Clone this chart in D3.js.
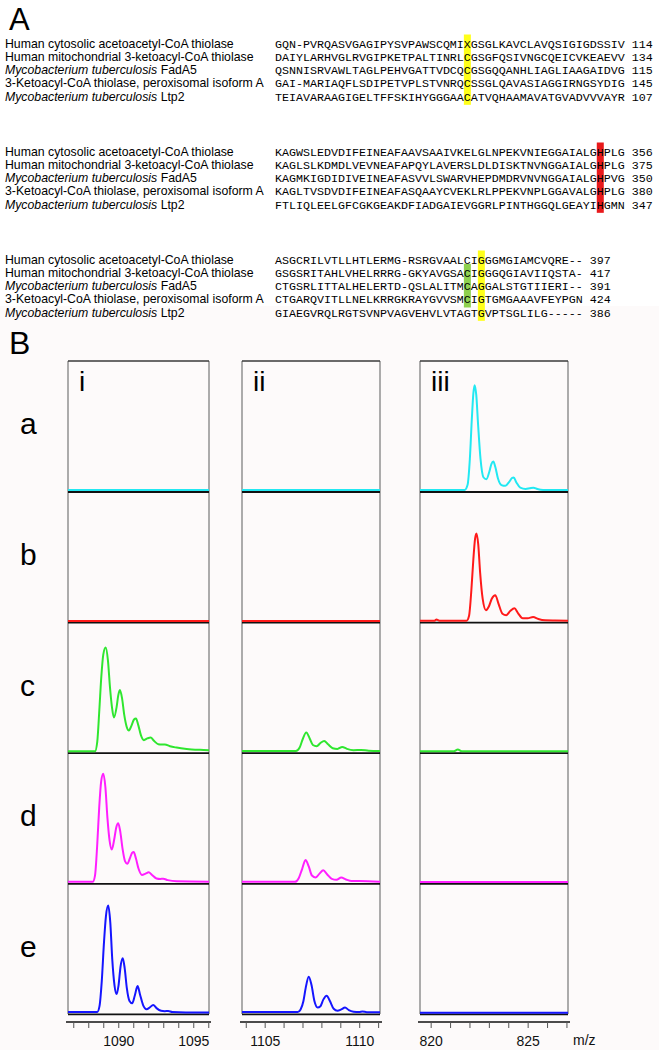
<!DOCTYPE html>
<html><head><meta charset="utf-8">
<script src="https://cdn.jsdelivr.net/npm/d3@7"></script>
<style>body{margin:0;background:#fff}svg{display:block}</style>
</head><body>
<script>
// ---------------- Panel A data ----------------
const nameItalic = ["", "", "Mycobacterium tuberculosis", "", "Mycobacterium tuberculosis"];
const namePlain = ["Human cytosolic acetoacetyl-CoA thiolase", "Human mitochondrial 3-ketoacyl-CoA thiolase", " FadA5", "3-Ketoacyl-CoA thiolase, peroxisomal isoform A", " Ltp2"];
const block1Seqs = [
  "GQN-PVRQASVGAGIPYSVPAWSCQMIXGSGLKAVCLAVQSIGIGDSSIV",
  "DAIYLARHVGLRVGIPKETPALTINRLCGSGFQSIVNGCQEICVKEAEVV",
  "QSNNISRVAWLTAGLPEHVGATTVDCQCGSGQQANHLIAGLIAAGAIDVG",
  "GAI-MARIAQFLSDIPETVPLSTVNRQCSSGLQAVASIAGGIRNGSYDIG",
  "TEIAVARAAGIGELTFFSKIHYGGGAACATVQHAAMAVATGVADVVVAYR"];
const block1Ends = ["114", "134", "115", "145", "107"];
const block2Seqs = [
  "KAGWSLEDVDIFEINEAFAAVSAAIVKELGLNPEKVNIEGGAIALGHPLG",
  "KAGLSLKDMDLVEVNEAFAPQYLAVERSLDLDISKTNVNGGAIALGHPLG",
  "KAGMKIGDIDIVEINEAFASVVLSWARVHEPDMDRVNVNGGAIALGHPVG",
  "KAGLTVSDVDIFEINEAFASQAAYCVEKLRLPPEKVNPLGGAVALGHPLG",
  "FTLIQLEELGFCGKGEAKDFIADGAIEVGGRLPINTHGGQLGEAYIHGMN"];
const block2Ends = ["356", "375", "350", "380", "347"];
const block3Seqs = [
  "ASGCRILVTLLHTLERMG-RSRGVAALCIGGGMGIAMCVQRE--",
  "GSGSRITAHLVHELRRRG-GKYAVGSACIGGGQGIAVIIQSTA-",
  "CTGSRLITTALHELERTD-QSLALITMCAGGALSTGTIIERI--",
  "CTGARQVITLLNELKRRGKRAYGVVSMCIGTGMGAAAVFEYPGN",
  "GIAEGVRQLRGTSVNPVAGVEHVLVTAGTGVPTSGLILG-----"];
const block3Ends = ["397", "417", "391", "424", "386"];
// highlighted columns: block, residue index, first row, last row, colour
const highlightBlock = [0, 1, 2, 2];
const highlightCol = [27, 46, 27, 29];
const highlightRowFrom = [0, 0, 1, 0];
const highlightRowTo = [4, 4, 3, 4];
const highlightColor = ["#ffff1a", "#e8191b", "#8fd14f", "#ffff1a"];

// ---------------- Panel B data ----------------
const rowLabels = ["a", "b", "c", "d", "e"];
const colLabels = ["i", "ii", "iii"];
const rowColors = ["#22e8f2", "#ff1a1a", "#2fe62f", "#ff1fff", "#1515ff"];
const domainI = [1086.65, 1096.05], domainII = [1103.8, 1111.1], domainIII = [819.45, 827.08];
const ticksI = [1087, 1088, 1089, 1090, 1091, 1092, 1093, 1094, 1095, 1096];
const ticksII = [1104, 1105, 1106, 1107, 1108, 1109, 1110, 1111];
const ticksIII = [820, 821, 822, 823, 824, 825, 826, 827];
const labelsI = [1090, 1095], labelsII = [1105, 1110], labelsIII = [820, 825];

// spectra: [m/z, intensity in % of panel height]
const a_i = [[1086.65, 1.2], [1096.05, 1.2]];
const a_ii = [[1103.8, 1.2], [1111.1, 1.2]];
const a_iii = [[819.45,1.2],[821.75,1.2],[821.9,5],[822.02,25],[822.12,55],[822.2,75],[822.27,81.5],[822.35,74],[822.45,50],[822.57,25],[822.72,11],[822.87,9.5],[823.02,15],[823.13,21],[823.23,23],[823.33,19],[823.47,10],[823.65,5],[823.85,4.4],[824.05,7.5],[824.2,10.5],[824.28,10.8],[824.42,7],[824.62,3],[824.9,2],[825.1,2.5],[825.3,3],[825.5,2],[825.8,1.3],[827.08,1.2]];
const b_i = [[1086.65, 1.0], [1096.05, 1.0]];
const b_ii = [[1103.8, 1.0], [1111.1, 1.0]];
const b_iii = [[819.45,1.2],[820.2,1.2],[820.3,2],[820.45,1.2],[821.85,1.2],[821.98,5],[822.1,25],[822.2,48],[822.29,64],[822.36,68],[822.45,60],[822.55,38],[822.68,18],[822.85,9.2],[823.0,12],[823.15,18],[823.33,20.7],[823.5,14],[823.7,6.5],[823.9,5.4],[824.1,8.5],[824.32,10.7],[824.5,7],[824.75,3],[825.0,3],[825.28,4],[825.55,2.5],[825.9,1.5],[826.4,1.3],[827.08,1.2]];
const c_i = [[1086.65,1.2],[1088.45,1.2],[1088.60,8.4],[1088.74,33],[1088.87,58],[1089.00,75],[1089.16,80.6],[1089.31,71],[1089.45,50],[1089.58,35],[1089.71,27],[1089.89,35],[1090.00,44],[1090.11,48],[1090.25,42],[1090.40,29],[1090.56,20],[1090.71,17],[1090.89,21],[1091.05,25.5],[1091.18,26.3],[1091.34,21],[1091.51,13.5],[1091.71,9.7],[1091.94,11],[1092.16,11.7],[1092.38,9.2],[1092.67,6.6],[1092.89,6.4],[1093.11,6.4],[1093.45,5],[1093.89,4],[1094.56,3],[1095.45,2.3],[1096.05,2]];
const c_ii = [[1103.8,1.3],[1106.65,1.3],[1106.85,4],[1107.0,10],[1107.2,15.5],[1107.38,11],[1107.55,6],[1107.75,5],[1107.95,7.5],[1108.15,9],[1108.35,6.5],[1108.6,3.5],[1108.85,3],[1109.1,4.5],[1109.35,3],[1109.7,2],[1110.1,2.2],[1110.5,1.6],[1111.1,1.4]];
const c_iii = [[819.45,1.2],[821.2,1.2],[821.4,2.5],[821.6,1.2],[827.08,1.2]];
const d_i = [[1086.65,1.2],[1088.3,1.2],[1088.45,6],[1088.6,30],[1088.73,58],[1088.86,78],[1089.0,84],[1089.14,74],[1089.28,50],[1089.42,33],[1089.57,26],[1089.75,35],[1089.87,43],[1090.0,46],[1090.13,40],[1090.28,27],[1090.45,17],[1090.6,15],[1090.8,20],[1090.93,23.5],[1091.03,24],[1091.18,19],[1091.36,11],[1091.58,6.5],[1091.82,7.5],[1092.03,8.5],[1092.25,6.5],[1092.55,3.8],[1092.8,3.4],[1093.0,3.6],[1093.3,2.5],[1093.9,1.6],[1096.05,1.3]];
const d_ii = [[1103.8,1.2],[1106.6,1.2],[1106.8,4],[1106.98,11],[1107.16,18],[1107.33,13],[1107.5,6],[1107.7,4.5],[1107.9,7.5],[1108.1,10],[1108.3,7],[1108.55,3.5],[1108.8,2.8],[1109.05,4.5],[1109.3,3],[1109.6,1.8],[1110.0,1.8],[1111.1,1.2]];
const d_iii = [[819.45, 1.0], [827.08, 1.0]];
const e_i = [[1086.65,1.5],[1088.6,1.5],[1088.75,6],[1088.9,25],[1089.05,55],[1089.18,75],[1089.33,83],[1089.47,70],[1089.6,42],[1089.75,22],[1089.89,15.3],[1090.02,22],[1090.15,36],[1090.3,42.6],[1090.43,35],[1090.57,20],[1090.75,10],[1090.93,8.2],[1091.1,14],[1091.29,21.4],[1091.45,15],[1091.65,7],[1091.89,3.6],[1092.1,5],[1092.33,6.9],[1092.55,4.5],[1092.85,2.5],[1093.1,2.2],[1093.33,2.3],[1093.6,1.5],[1094.5,1.2],[1096.05,1.2]];
const e_ii = [[1103.8,1.5],[1106.75,1.5],[1106.9,3.5],[1107.05,10],[1107.17,20],[1107.33,28.6],[1107.48,22],[1107.63,10],[1107.8,5],[1107.95,6],[1108.1,11],[1108.28,14],[1108.45,10],[1108.65,4],[1108.85,2.5],[1109.05,3.5],[1109.25,5],[1109.45,3],[1109.7,1.8],[1110.0,1.5],[1110.17,1.9],[1110.4,1.4],[1111.1,1.3]];
const e_iii = [[819.45, 1.0], [827.08, 1.0]];
const spectraGrid = [[a_i, a_ii, a_iii], [b_i, b_ii, b_iii], [c_i, c_ii, c_iii], [d_i, d_ii, d_iii], [e_i, e_ii, e_iii]];

// ---------------- drawing ----------------
const W = 659, H = 1050;
const svg = d3.select("body").append("svg").attr("width", W).attr("height", H);
svg.append("rect").attr("width", W).attr("height", H).attr("fill", "#ffffff");
svg.append("rect").attr("y", 306).attr("width", W).attr("height", H - 306).attr("fill", "#fdfafa");

const sans = "'Liberation Sans', Arial, Helvetica, sans-serif";
const mono = "'Liberation Mono', 'Courier New', monospace";

// Panel A
svg.append("text").attr("x", 9).attr("y", 30).attr("font-family", sans).attr("font-size", 31).text("A");

const nameX = 5, seqX = 275, lineGap = 13.33, blockTop = [47.5, 155.5, 263.5];
const blocks = [[block1Seqs, block1Ends], [block2Seqs, block2Ends], [block3Seqs, block3Ends]];

const probe = svg.append("text").attr("font-family", mono).attr("font-size", 11.67).text("MMMMMMMMMM");
const charW = probe.node().getComputedTextLength() / 10;
probe.remove();

highlightBlock.forEach((b, k) => {
  const y0 = blockTop[b] + highlightRowFrom[k] * lineGap - 13;
  const y1 = blockTop[b] + highlightRowTo[k] * lineGap + 4;
  svg.append("rect").attr("x", seqX + highlightCol[k] * charW).attr("y", y0)
    .attr("width", charW).attr("height", y1 - y0).attr("fill", highlightColor[k]);
});

const probe2 = svg.append("text").attr("font-family", sans).attr("font-size", 12).text(namePlain[0]);
const nameFs = 12 * 229 / probe2.node().getComputedTextLength();
probe2.remove();

blocks.forEach(([seqs, ends], b) => {
  seqs.forEach((s, r) => {
    const y = blockTop[b] + r * lineGap;
    const t = svg.append("text").attr("x", nameX).attr("y", y).attr("font-family", sans).attr("font-size", nameFs);
    if (nameItalic[r]) t.append("tspan").attr("font-style", "italic").text(nameItalic[r]);
    t.append("tspan").text(namePlain[r]);
    svg.append("text").attr("x", seqX).attr("y", y).attr("font-family", mono).attr("font-size", 11.67)
      .attr("xml:space", "preserve").style("white-space", "pre").text(s + " " + ends[r]);
  });
});

// Panel B
svg.append("text").attr("x", 9).attr("y", 354).attr("font-family", sans).attr("font-size", 32).text("B");

const rowTop = 361, rowH = 130.6;
const colX = [[68, 209], [242, 380], [420, 568]];
const domains = [domainI, domainII, domainIII];
const tickSets = [ticksI, ticksII, ticksIII];
const labelSets = [labelsI, labelsII, labelsIII];
const xScales = colX.map((c, j) => d3.scaleLinear().domain(domains[j]).range(c));
const bottom = rowTop + 5 * rowH;

colX.forEach((c, j) => {
  const g = svg.append("g");
  g.append("line").attr("x1", c[0]).attr("x2", c[0]).attr("y1", rowTop).attr("y2", bottom).attr("stroke", "#6a6a6a").attr("stroke-width", 1.1);
  g.append("line").attr("x1", c[1]).attr("x2", c[1]).attr("y1", rowTop).attr("y2", bottom).attr("stroke", "#6a6a6a").attr("stroke-width", 1.1);
  g.append("line").attr("x1", c[0]).attr("x2", c[1]).attr("y1", rowTop).attr("y2", rowTop).attr("stroke", "#3a3a3a").attr("stroke-width", 1.6);
  g.append("text").attr("x", c[0] + 11).attr("y", rowTop + 30).attr("font-family", sans).attr("font-size", 28).text(colLabels[j]);
  const ax = d3.axisBottom(xScales[j]).tickValues(tickSets[j]).tickSize(6).tickSizeOuter(0)
    .tickFormat(d => labelSets[j].includes(d) ? d : "");
  const ag = svg.append("g").attr("transform", `translate(0,${bottom + 8})`).call(ax);
  ag.select(".domain").attr("stroke", "#111").attr("stroke-width", 1.6).attr("d", `M${c[0] - 2},0H${c[1] + 2}`);
  ag.selectAll(".tick line").attr("stroke", "#555").attr("stroke-width", 1);
  ag.selectAll(".tick text").attr("font-family", sans).attr("font-size", 14).attr("fill", "#111").attr("dy", "1.05em");
});
svg.append("text").attr("x", 573).attr("y", bottom + 31).attr("font-family", sans).attr("font-size", 14).attr("fill", "#111").text("m/z");

rowLabels.forEach((lab, i) => {
  const y0 = rowTop + i * rowH, y1 = y0 + rowH;
  svg.append("text").attr("x", 20).attr("y", y0 + rowH / 2 + 8).attr("font-family", sans).attr("font-size", 30).text(lab);
  const yS = d3.scaleLinear().domain([0, 100]).range([y1, y0]);
  colX.forEach((c, j) => {
    svg.append("line").attr("x1", c[0]).attr("x2", c[1]).attr("y1", y1 + 0.4).attr("y2", y1 + 0.4).attr("stroke", "#111").attr("stroke-width", 1.8);
    const line = d3.line().x(d => xScales[j](d[0])).y(d => yS(d[1])).curve(d3.curveMonotoneX);
    svg.append("path").datum(spectraGrid[i][j]).attr("d", line).attr("fill", "none")
      .attr("stroke", rowColors[i]).attr("stroke-width", 2).attr("stroke-linejoin", "round");
  });
});
</script>
</body></html>
